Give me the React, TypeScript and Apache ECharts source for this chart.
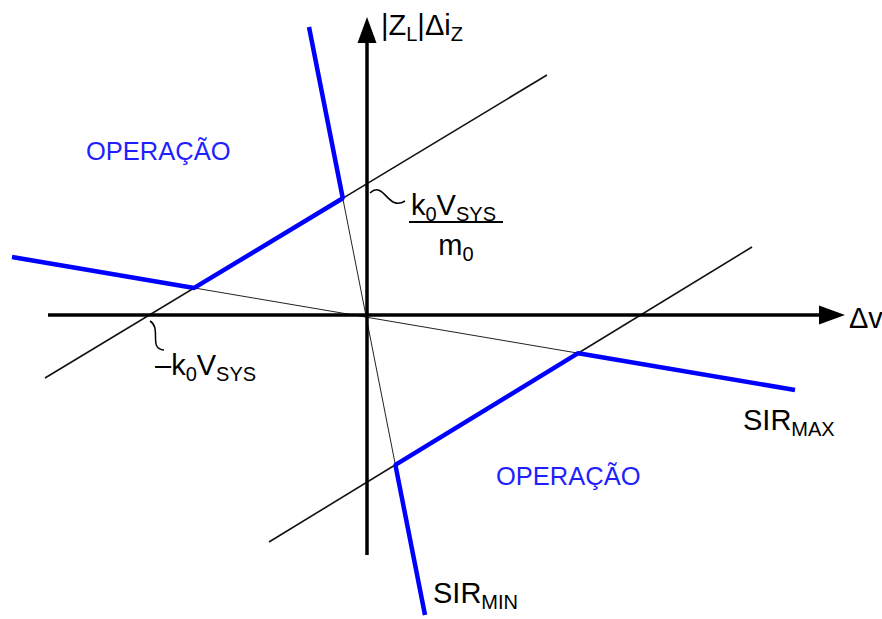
import React, { useEffect, useRef } from "react";
import * as echarts from "echarts";

type Pt = [number, number];

// Plane coordinates: Δv to the right, |Z_L|Δi_Z upwards, origin where the axes cross.
const upperLine: Pt[] = [[-322, -63], [180, 240]];
const lowerLine: Pt[] = [[-98, -227], [385, 68]];
const sirMaxLine: Pt[] = [[-355, 58], [428, -75]];
const sirMinLine: Pt[] = [[-58, 288], [58, -300]];
const deltaVAxis: Pt[] = [[-319, 0], [465, 0]];
const currentAxis: Pt[] = [[0, -240], [0, 285]];
const xRange = [-367, 515];
const yRange = [-304, 315];

const regionLabel = "OPERAÇÃO";
const FONT = '"Liberation Sans", Arial, Helvetica, sans-serif';

function intersect(a: Pt[], b: Pt[]): Pt {
  const [[x1, y1], [x2, y2]] = a;
  const [[x3, y3], [x4, y4]] = b;
  const d = (x1 - x2) * (y3 - y4) - (y1 - y2) * (x3 - x4);
  const p = x1 * y2 - y1 * x2;
  const q = x3 * y4 - y3 * x4;
  return [(p * (x3 - x4) - (x1 - x2) * q) / d, (p * (y3 - y4) - (y1 - y2) * q) / d];
}

// Operating-region boundaries (thick blue)
const upperBoundary: Pt[] = [
  sirMaxLine[0],
  intersect(sirMaxLine, upperLine),
  intersect(upperLine, sirMinLine),
  sirMinLine[0],
];
const lowerBoundary: Pt[] = [
  sirMinLine[1],
  intersect(sirMinLine, lowerLine),
  intersect(lowerLine, sirMaxLine),
  sirMaxLine[1],
];

// Base text and lowered subscripts
const rich = {
  b: { fontSize: 29, lineHeight: 34, verticalAlign: "top", fontFamily: FONT, fill: "#000" },
  s: { fontSize: 20, lineHeight: 34, verticalAlign: "top", padding: [14, 0, 0, 0], fontFamily: FONT, fill: "#000" },
};

function lineSeries(data: Pt[], width: number, color: string, z: number) {
  return {
    type: "line",
    data,
    symbol: "none",
    silent: true,
    clip: false,
    z,
    lineStyle: { width, color, cap: "butt" },
  };
}

function richText(text: string, x: number, y: number, align = "left") {
  return {
    type: "text",
    x,
    y,
    silent: true,
    style: { text, rich, align, verticalAlign: "bottom", fontFamily: FONT },
  };
}

export default function App() {
  const ref = useRef<HTMLDivElement>(null);

  useEffect(() => {
    if (!ref.current) return;
    const chart = echarts.init(ref.current, null, { renderer: "svg" });
    chart.setOption({
      animation: false,
      backgroundColor: "#ffffff",
      grid: { left: 0, right: 0, top: 0, bottom: 0 },
      xAxis: { type: "value", min: xRange[0], max: xRange[1], show: false },
      yAxis: { type: "value", min: yRange[0], max: yRange[1], show: false },
      series: [
        lineSeries(upperLine, 1.6, "#111", 2),
        lineSeries(lowerLine, 1.6, "#111", 2),
        lineSeries(sirMaxLine, 1, "#222", 2),
        lineSeries(sirMinLine, 1, "#222", 2),
        {
          type: "line",
          data: [[0, 0]],
          symbol: "none",
          silent: true,
          z: 3,
          markLine: {
            silent: true,
            symbol: ["none", "triangle"],
            symbolSize: [19, 26],
            label: { show: false },
            lineStyle: { color: "#000", width: 3.5, type: "solid" },
            data: [
              [{ coord: deltaVAxis[0] }, { coord: deltaVAxis[1] }],
              [{ coord: currentAxis[0] }, { coord: currentAxis[1] }],
            ],
          },
        },
        lineSeries(upperBoundary, 4.5, "#0000ff", 4),
        lineSeries(lowerBoundary, 4.5, "#0000ff", 4),
      ],
      graphic: [
        richText("{b||Z}{s|L}{b||Δi}{s|Z}", 381, 44),
        richText("{b|Δv}", 849, 337),
        richText("{b|k}{s|0}{b|V}{s|SYS}", 411, 224),
        {
          type: "line",
          silent: true,
          shape: { x1: 409, y1: 222, x2: 503, y2: 222 },
          style: { stroke: "#000", lineWidth: 2 },
        },
        richText("{b|m}{s|0}", 456, 264, "center"),
        richText("{b|–k}{s|0}{b|V}{s|SYS}", 155, 384),
        richText("{b|SIR}{s|MAX}", 743, 439),
        richText("{b|SIR}{s|MIN}", 433, 612),
        {
          type: "bezierCurve",
          silent: true,
          shape: { x1: 370, y1: 193, cpx1: 384, cpy1: 180, cpx2: 388, cpy2: 212, x2: 405, y2: 201 },
          style: { stroke: "#000", lineWidth: 1.5, fill: "none" },
        },
        {
          type: "bezierCurve",
          silent: true,
          shape: { x1: 150, y1: 321, cpx1: 162, cpy1: 328, cpx2: 148, cpy2: 349, x2: 164, y2: 350 },
          style: { stroke: "#000", lineWidth: 1.5, fill: "none" },
        },
        {
          type: "text",
          x: 86,
          y: 151,
          silent: true,
          style: { text: regionLabel, fontSize: 25.5, fontFamily: FONT, fill: "#1f1fff", align: "left", verticalAlign: "middle" },
        },
        {
          type: "text",
          x: 496,
          y: 476,
          silent: true,
          style: { text: regionLabel, fontSize: 25.5, fontFamily: FONT, fill: "#1f1fff", align: "left", verticalAlign: "middle" },
        },
      ],
    });
    return () => chart.dispose();
  }, []);

  return (
    <div
      ref={ref}
      style={{ position: "fixed", left: 0, top: 0, width: 882, height: 619, background: "#fff" }}
    />
  );
}
